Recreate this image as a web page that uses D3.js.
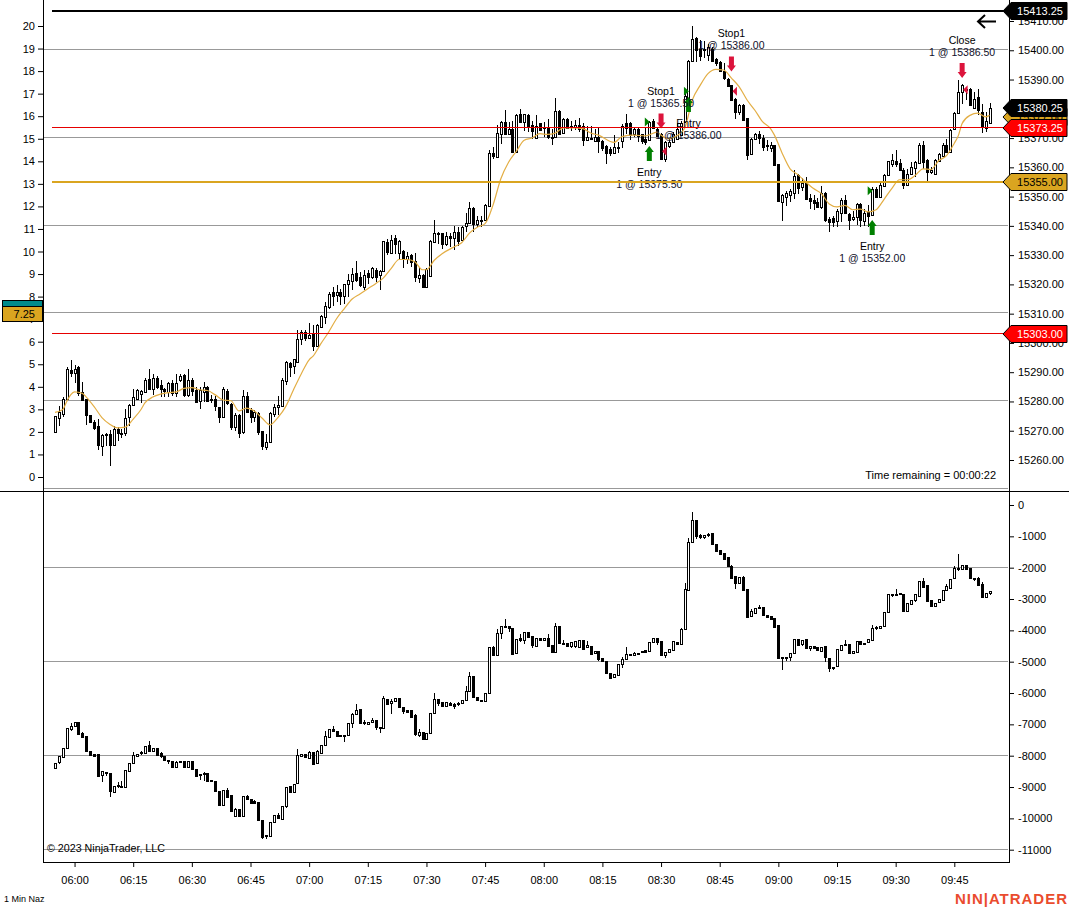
<!DOCTYPE html>
<html>
<head>
<meta charset="utf-8">
<style>
  html, body { margin: 0; padding: 0; background: #fff; }
  svg { display: block; }
  text { font-family: "Liberation Sans", Arial, sans-serif; fill: #000; }
  .axis text { font-size: 11px; }
  .axis line { stroke: #000; }
</style>
<script src="https://d3js.org/d3.v7.min.js"></script>
</head>
<body>
<div id="chart"></div>
<script>
// Svg Dimensions
var svgWidth = 1069;
var svgHeight = 909;

// Price bars, one per minute from 05:55: open, high, low, close
var priceBars = [
  [15269.5,15275,15269.5,15275],[15274.25,15278.5,15271.5,15276.25],[15275.75,15281.5,15274.75,15280.75],[15280.75,15291.75,15280.5,15291],
  [15290.75,15294.25,15288.25,15289.75],[15289.5,15292.5,15286.25,15291],[15291.75,15292.25,15281.75,15283],[15283.25,15286.75,15280.25,15280.5],
  [15280.75,15280.75,15272,15275.25],[15275.25,15275.5,15272.75,15273],[15273,15273.75,15270.25,15271],[15271.75,15274,15263.5,15265.25],
  [15264.75,15269,15261.25,15268.5],[15268.5,15269.25,15264.75,15269],[15269,15270.25,15258,15265.25],[15265.25,15271.5,15264.75,15270.75],
  [15270.75,15271.25,15266.5,15269.25],[15269.25,15270.75,15267.5,15269],[15269.25,15277.5,15268.25,15274.25],[15274.5,15279,15271.5,15278.75],
  [15278.75,15284.25,15278.5,15281.5],[15280.75,15284.25,15280.5,15283.75],[15282.5,15284,15279.5,15283.5],[15283.25,15288,15283,15287.5],
  [15287.75,15291.25,15284,15284.5],[15284.25,15289.5,15282.25,15288],[15288,15288.75,15284.25,15285],[15285.75,15287.25,15281.5,15284.25],
  [15284.25,15284.75,15281.5,15283.5],[15283.25,15286.75,15281.5,15286.25],[15286.25,15287.25,15281.75,15283],[15282.75,15289.5,15281.5,15286.25],
  [15287.5,15289.5,15286.5,15288.75],[15289,15289.5,15281.5,15282.25],[15282.25,15291,15281.5,15287.5],[15287.5,15288,15281.75,15283.75],
  [15284,15285,15279.5,15279.75],[15280,15285,15277.5,15283.75],[15283.25,15286.75,15279.75,15285],[15285,15285.25,15279.75,15280.25],
  [15280.75,15282.25,15279.5,15280.25],[15280.75,15281.75,15276.75,15278.25],[15278,15278.25,15272.75,15274.75],[15274.75,15285,15274.5,15284.25],
  [15283.5,15284.25,15278.75,15279.5],[15279,15279.5,15270.25,15271.25],[15271.25,15276,15269.75,15275.5],[15275.5,15275.75,15267.5,15269.5],
  [15269.5,15284,15269,15281.75],[15282,15283.25,15276,15276.5],[15277,15277.75,15272.75,15274.75],[15274.5,15277,15273,15276.25],
  [15276,15276.5,15268.5,15269.5],[15269.75,15270,15263.5,15264.5],[15264.5,15269,15263.25,15266.25],[15266,15276.5,15265.75,15276],
  [15275.75,15279.25,15274.75,15278],[15278,15281.75,15275.5,15278.75],[15278.5,15288,15278.25,15287.5],[15287,15293.75,15285.75,15293.5],
  [15293,15293.5,15288.5,15291.75],[15292,15294.5,15289.5,15294.5],[15293.75,15304.5,15293.5,15301.5],[15301.5,15304.25,15299.25,15303.75],
  [15303.75,15304.25,15300.75,15301.75],[15301.75,15306.75,15301.5,15302.75],[15303.25,15306.25,15297.25,15298.75],[15299,15306.5,15298.75,15306.25],
  [15305.5,15309.5,15305.25,15309.25],[15309,15314,15306.5,15312.75],[15312.25,15317.5,15311.75,15316.75],[15317.5,15319.25,15312.75,15316.25],
  [15316.25,15319.75,15314,15317.25],[15317.5,15318.5,15313,15316.25],[15315.75,15320.25,15313.25,15320],[15320,15323.5,15315.75,15321.5],
  [15321.25,15325.5,15318,15323.5],[15323.75,15328,15320.75,15321.5],[15322.5,15324.25,15319.25,15319.75],[15319.25,15325,15318,15323.25],
  [15324,15324.75,15320.25,15322.75],[15322.5,15326,15322,15325.5],[15325,15325.75,15320.75,15322.5],[15323.25,15325,15318.25,15324.5],
  [15324.5,15335,15324.25,15334.75],[15334.5,15335.5,15330,15331],[15330.75,15336.75,15330.5,15335.25],[15335.75,15336.75,15330.5,15333.75],
  [15331,15335.25,15328.75,15335],[15331.5,15331.75,15325.5,15328.75],[15328.75,15331,15327,15329.75],[15330,15330.5,15326,15327.75],
  [15328,15330.75,15320.75,15322.5],[15322.25,15326,15320.5,15323.25],[15323.25,15323.5,15318.75,15319],[15319.25,15325.5,15319,15325.25],
  [15323,15335.25,15322.5,15335],[15334.5,15342,15334,15337.5],[15337.5,15338,15333.75,15337.25],[15337.5,15337.5,15332.25,15333.75],
  [15333.75,15337.75,15333.25,15336.5],[15336.5,15337.5,15332.75,15335.75],[15335.75,15340,15331.75,15337.75],[15338,15339.75,15333.25,15335],
  [15335,15340,15334.75,15339.5],[15340,15344.5,15338,15341],[15341,15348.25,15340.75,15346.25],[15346.25,15346.5,15338,15340.75],
  [15340.5,15343.25,15339.5,15342],[15342,15343.5,15339.5,15341.5],[15342,15347.5,15341.5,15347],[15346.75,15366,15346.5,15364.75],
  [15364.75,15367,15363,15363.75],[15363.5,15374.5,15363.5,15371.75],[15371.5,15376,15368,15375.5],[15375.5,15379.75,15371,15371.25],
  [15371.5,15375.5,15371.25,15373.25],[15373.25,15376,15365.25,15365.5],[15365.25,15378.25,15365,15378],[15378.25,15380,15375.25,15375.5],
  [15375.5,15378.25,15372.5,15378.25],[15378,15378.25,15372,15374.25],[15374.5,15375.75,15369.75,15372.5],[15370,15378,15369.75,15374.25],
  [15375,15375.25,15372.5,15372.75],[15373.25,15375.5,15370.25,15373.75],[15373.75,15376.5,15369.75,15370.25],[15370.5,15373,15367.5,15370],
  [15370.5,15383.75,15370.25,15379.25],[15379.25,15379.5,15371,15371.5],[15371.75,15377,15371.5,15376.5],[15376.5,15377,15373.25,15373.5],
  [15374,15376,15372.5,15373.5],[15373.75,15376.25,15372.75,15374.5],[15374.5,15377,15372,15373],[15374,15375,15367.25,15369.25],
  [15369.25,15374.25,15369,15370.25],[15369.75,15374.25,15369.25,15370],[15369.25,15373.25,15369,15370.5],[15370.5,15373.75,15364.75,15369],
  [15369,15369.25,15365.75,15366.75],[15367.25,15367.5,15361.25,15365],[15366.25,15367,15363.75,15364.75],[15365,15371,15364.75,15367],
  [15367,15368.5,15364.75,15366.5],[15369.25,15374.75,15366.5,15374.25],[15375,15378.25,15371.5,15373.25],[15375,15375.5,15369.25,15371],
  [15371.5,15373.5,15370.25,15373.25],[15373.25,15373.5,15368.75,15371],[15371.25,15371.5,15368,15368.75],[15369.75,15373.75,15367.5,15368.75],
  [15369.25,15376,15369,15375.5],[15376,15376.5,15373.25,15373.75],[15373.25,15373.5,15370.75,15371],[15371.5,15371.75,15362.5,15363],
  [15363,15369,15361.75,15368.75],[15367.5,15370,15366.5,15368.75],[15368.75,15372,15368.5,15371.5],[15369.75,15375,15369.5,15373.25],
  [15371,15376,15370.75,15375],[15375.5,15385,15375.25,15384.5],[15384,15396.75,15383.75,15396.5],[15396.5,15408.25,15396.25,15404],
  [15404.25,15404.5,15396,15400],[15400.5,15403.5,15396.5,15398],[15400,15403,15397.5,15400.5],[15398.25,15402.25,15396.25,15401],
  [15400.5,15401,15396,15396.5],[15397,15397.5,15394.75,15395.5],[15396,15396.25,15392.75,15393],[15393,15395.5,15390,15390.5],
  [15390.25,15390.5,15387.5,15388],[15388,15388.25,15382.5,15382.75],[15383.5,15383.75,15376.5,15379],[15379,15381.5,15377.75,15381.25],
  [15381.25,15381.5,15375.75,15376],[15376.75,15377,15362.5,15364],[15364.75,15370,15364.5,15369.75],[15369.75,15371.75,15369.5,15371.5],
  [15371.25,15372.5,15368,15370],[15370,15371,15365.75,15367],[15367.75,15369.5,15365.75,15367.25],[15366.75,15368.5,15365.25,15367.75],
  [15367.5,15367.75,15360.5,15360.75],[15361,15361.25,15348,15348.25],[15348.25,15350.75,15341.5,15350.5],[15349.75,15351.75,15346.75,15351.25],
  [15350.5,15352.75,15348,15352],[15351.25,15359,15349.25,15357],[15357.25,15357.75,15351,15352.75],[15353.25,15356.5,15351.75,15354.5],
  [15355,15356.75,15349,15349.25],[15349.5,15351,15345.75,15348.5],[15349,15350.5,15345.5,15348],[15348.25,15349.5,15346.25,15346.5],
  [15346.5,15353.75,15345.75,15351.25],[15351.25,15351.5,15341.25,15342],[15342.5,15343,15337.75,15341.5],[15342.75,15343.25,15339.5,15341.25],
  [15341.5,15345.75,15339.5,15345],[15344.5,15349.5,15341.25,15349],[15348.75,15350.5,15344,15344.25],[15344,15344.25,15338.75,15342],
  [15342.25,15345.25,15341.75,15343],[15343,15347.75,15340.25,15347.5],[15347.5,15347.75,15339.75,15342],[15341.75,15345.75,15340,15344.5],
  [15344.75,15347,15339.5,15343.5],[15343.5,15353.25,15343.25,15352.5],[15352.5,15353.25,15349.5,15349.75],[15349.75,15354.5,15349.5,15354],
  [15353.75,15357.75,15353.5,15357.5],[15357.25,15362.25,15357,15362],[15361.25,15364.5,15360.25,15362.5],[15362.25,15366,15360,15361.25],
  [15361.5,15363,15359,15359.25],[15359.25,15359.75,15352.5,15354],[15354,15359.5,15353.75,15357.75],[15357.5,15361.75,15357.25,15360],
  [15359.75,15362.25,15356.75,15361.75],[15361.75,15368.25,15361.5,15367.75],[15367.5,15369,15359.5,15361.75],[15362.5,15363,15355.25,15358.25],
  [15358.25,15360,15357.75,15359],[15357.75,15362.75,15357.5,15362.5],[15362.25,15365,15362,15364.5],[15364,15368.25,15363.75,15367.75],
  [15367.5,15369.75,15365,15365.25],[15365.25,15373.25,15365,15372.75],[15373,15378.75,15372.75,15378.5],[15378.5,15390,15378.25,15385.75],
  [15385.75,15388.5,15381.75,15388],[15386.75,15387.5,15383,15386.25],[15386.75,15387,15381,15381.25],[15380.5,15385.75,15380.25,15383.5],
  [15384,15386.75,15377.75,15379.5],[15379,15381.75,15371.75,15373.75],[15373.75,15379,15372,15376],[15375.25,15382,15374.75,15380.25]
];

// Cumulative delta bars in the lower panel: open, high, low, close
var deltaBars = [
  [-8395,-8225,-8395,-8225],[-8225,-8000,-8250,-8020],[-8045,-7745,-8065,-7745],[-7745,-7105,-7745,-7105],[-7130,-6960,-7215,-7040],
  [-7040,-6915,-7040,-6915],[-6915,-6915,-7300,-7300],[-7275,-7245,-7425,-7405],[-7360,-7360,-7880,-7850],[-7850,-7850,-7990,-7990],
  [-7935,-7935,-7990,-7990],[-7935,-7935,-8630,-8630],[-8630,-8500,-8840,-8500],[-8565,-8520,-8660,-8520],[-8555,-8555,-9320,-9140],
  [-9140,-8960,-9140,-8960],[-8980,-8840,-9020,-8950],[-8990,-8820,-9000,-8970],[-9000,-8470,-9000,-8470],[-8490,-8235,-8490,-8235],
  [-8255,-7885,-8255,-7990],[-8000,-7935,-8000,-7935],[-7935,-7850,-7990,-7895],[-7905,-7680,-7905,-7680],[-7670,-7530,-7850,-7850],
  [-7850,-7745,-7850,-7745],[-7745,-7745,-7970,-7970],[-7915,-7885,-8065,-8020],[-8010,-8010,-8180,-8130],[-8130,-8130,-8280,-8160],
  [-8160,-8160,-8360,-8360],[-8360,-8170,-8390,-8190],[-8170,-8170,-8200,-8200],[-8160,-8160,-8340,-8340],[-8340,-8160,-8385,-8160],
  [-8160,-8160,-8415,-8415],[-8415,-8415,-8660,-8630],[-8615,-8575,-8790,-8595],[-8595,-8520,-8810,-8550],[-8540,-8540,-8800,-8800],
  [-8790,-8790,-8800,-8800],[-8800,-8800,-9160,-9130],[-9130,-9130,-9565,-9565],[-9565,-9085,-9565,-9085],[-9085,-9020,-9300,-9300],
  [-9265,-9265,-9775,-9775],[-9905,-9660,-9925,-9690],[-9690,-9690,-9925,-9925],[-9925,-9275,-9925,-9275],[-9275,-9245,-9405,-9385],
  [-9375,-9375,-9510,-9510],[-9460,-9425,-9510,-9510],[-9480,-9480,-10065,-10065],[-10045,-10045,-10650,-10575],[-10565,-10520,-10650,-10545],
  [-10565,-10115,-10565,-10115],[-10115,-9905,-10115,-9905],[-9905,-9830,-10030,-9990],[-10010,-9595,-10040,-9595],[-9615,-9000,-9670,-9000],
  [-8980,-8980,-9160,-9160],[-9160,-8895,-9190,-8895],[-8895,-7800,-8895,-7990],[-8010,-7935,-8010,-7935],[-7960,-7960,-8075,-8045],
  [-8065,-7850,-8095,-7885],[-7885,-7885,-8255,-8255],[-8255,-7830,-8255,-7860],[-7905,-7650,-7930,-7650],[-7670,-7225,-7670,-7385],
  [-7405,-7140,-7405,-7140],[-7140,-7065,-7245,-7215],[-7200,-7200,-7385,-7350],[-7330,-7330,-7385,-7360],[-7330,-7330,-7565,-7350],
  [-7330,-6945,-7330,-6945],[-6945,-6640,-7115,-6660],[-6660,-6360,-6660,-6530],[-6510,-6510,-6945,-6945],[-6935,-6850,-7010,-6980],
  [-7000,-6925,-7010,-6925],[-6925,-6810,-6925,-6850],[-6850,-6850,-7170,-7085],[-7085,-7085,-7265,-7105],[-7105,-6105,-7105,-6160],
  [-6180,-6180,-6395,-6340],[-6320,-6190,-6680,-6245],[-6255,-6150,-6255,-6150],[-6150,-6150,-6445,-6445],[-6445,-6445,-6680,-6575],
  [-6530,-6530,-6585,-6585],[-6530,-6530,-6745,-6745],[-6710,-6660,-7370,-7320],[-7320,-7140,-7405,-7235],[-7235,-7235,-7460,-7460],
  [-7460,-7275,-7460,-7275],[-7275,-6625,-7275,-6625],[-6640,-5990,-6640,-6180],[-6190,-6190,-6425,-6320],[-6300,-6300,-6425,-6425],
  [-6415,-6300,-6415,-6300],[-6320,-6300,-6425,-6370],[-6340,-6310,-6500,-6395],[-6310,-6300,-6425,-6350],[-6320,-6210,-6320,-6210],
  [-6210,-5775,-6210,-5935],[-5935,-5340,-5935,-5445],[-5445,-5445,-6130,-6130],[-6130,-6130,-6210,-6210],[-6225,-6225,-6245,-6245],
  [-6245,-5990,-6245,-5990],[-5990,-4520,-5990,-4520],[-4520,-4500,-4795,-4775],[-4775,-3945,-4775,-4075],[-4075,-3850,-4275,-3850],
  [-3870,-3625,-3915,-3850],[-3850,-3850,-4055,-3915],[-3915,-3915,-4745,-4745],[-4725,-4265,-4725,-4265],[-4255,-4105,-4370,-4310],
  [-4295,-4040,-4425,-4040],[-4040,-4040,-4210,-4210],[-4190,-4190,-4565,-4480],[-4480,-4235,-4480,-4235],[-4235,-4235,-4300,-4300],
  [-4320,-4245,-4340,-4245],[-4235,-4105,-4500,-4500],[-4470,-4470,-4725,-4690],[-4690,-3755,-4690,-3870],[-3870,-3870,-4405,-4405],
  [-4415,-4300,-4480,-4395],[-4395,-4395,-4530,-4500],[-4500,-4370,-4555,-4370],[-4500,-4350,-4555,-4350],[-4530,-4300,-4530,-4300],
  [-4300,-4300,-4605,-4585],[-4555,-4350,-4555,-4480],[-4490,-4490,-4800,-4745],[-4725,-4660,-4765,-4660],[-4650,-4650,-4980,-4905],
  [-4870,-4870,-4980,-4980],[-4970,-4970,-5400,-5350],[-5350,-5350,-5530,-5510],[-5490,-5385,-5490,-5385],[-5405,-5065,-5435,-5065],
  [-5065,-4850,-5210,-4905],[-4905,-4540,-4905,-4745],[-4775,-4745,-4820,-4745],[-4775,-4680,-4820,-4715],[-4735,-4715,-4770,-4715],
  [-4670,-4670,-4700,-4700],[-4640,-4640,-4690,-4690],[-4660,-4360,-4660,-4360],[-4360,-4235,-4405,-4235],[-4235,-4235,-4480,-4370],
  [-4350,-4350,-4830,-4800],[-4775,-4680,-4880,-4680],[-4690,-4605,-4690,-4605],[-4630,-4350,-4650,-4350],[-4360,-4360,-4460,-4435],
  [-4435,-3910,-4435,-3945],[-3945,-2480,-3945,-2670],[-2700,-1065,-2730,-1170],[-1180,-235,-1215,-490],[-490,-490,-1085,-1000],
  [-945,-915,-1075,-1020],[-1000,-945,-1085,-945],[-935,-885,-1020,-955],[-895,-895,-1255,-1255],[-1235,-1235,-1450,-1450],
  [-1425,-1425,-1540,-1540],[-1520,-1520,-1745,-1710],[-1670,-1670,-1955,-1955],[-1945,-1925,-2320,-2320],[-2275,-2275,-2690,-2490],
  [-2490,-2310,-2490,-2310],[-2310,-2280,-2725,-2725],[-2690,-2690,-3610,-3575],[-3555,-3310,-3555,-3395],[-3425,-3275,-3480,-3275],
  [-3275,-3205,-3330,-3255],[-3265,-3265,-3520,-3520],[-3500,-3500,-3565,-3565],[-3540,-3540,-3630,-3630],[-3595,-3595,-3875,-3875],
  [-3840,-3840,-4885,-4885],[-4840,-4840,-5280,-4875],[-4840,-4840,-4980,-4865],[-4850,-4725,-4980,-4725],[-4725,-4265,-4725,-4265],
  [-4265,-4265,-4450,-4450],[-4435,-4300,-4510,-4300],[-4290,-4290,-4565,-4565],[-4565,-4490,-4660,-4490],[-4490,-4490,-4565,-4565],
  [-4545,-4545,-4650,-4650],[-4660,-4545,-4690,-4545],[-4510,-4510,-5000,-4870],[-4870,-4870,-5330,-5190],[-5160,-5160,-5280,-5190],
  [-5160,-4605,-5160,-4605],[-4630,-4455,-4630,-4455],[-4425,-4320,-4500,-4470],[-4425,-4425,-4715,-4715],[-4725,-4660,-4755,-4660],
  [-4670,-4330,-4700,-4330],[-4330,-4330,-4425,-4425],[-4395,-4395,-4470,-4425],[-4395,-4290,-4395,-4290],[-4300,-3820,-4300,-3915],
  [-3905,-3850,-4000,-3925],[-3935,-3860,-3935,-3860],[-3860,-3405,-3860,-3405],[-3405,-2830,-3405,-2830],[-2840,-2840,-2940,-2860],
  [-2830,-2670,-2880,-2850],[-2820,-2820,-2880,-2860],[-2850,-2850,-3425,-3385],[-3385,-3140,-3385,-3140],[-3160,-3020,-3190,-3020],
  [-3045,-2850,-3095,-2850],[-2885,-2415,-2885,-2415],[-2415,-2320,-2595,-2595],[-2565,-2565,-3075,-3075],[-3045,-3045,-3225,-3225],
  [-3225,-3115,-3225,-3115],[-3115,-3010,-3115,-3010],[-3010,-2700,-3010,-2700],[-2710,-2530,-2710,-2595],[-2625,-2350,-2625,-2350],
  [-2350,-1960,-2350,-2020],[-2040,-1575,-2105,-2020],[-2030,-1905,-2030,-1905],[-1905,-1905,-2075,-2045],[-2010,-2010,-2330,-2330],
  [-2320,-2320,-2435,-2350],[-2340,-2290,-2555,-2555],[-2530,-2470,-2945,-2945],[-2935,-2810,-2980,-2810],[-2810,-2745,-2870,-2745]
];

// Moving average at these bars
var smaBars = [0,2,3,4,5,7,8,10,12,14,16,18,20,22,23,25,27,29,31,33,35,37,39,41,43,45,47,49,51,53,55,57,59,61,63,65,66,68,70,72,74,76,78,80,82,84,86,88,90,92,94,95,97,99,102,104,106,108,110,112,114,116,118,120,122,124,126,128,130,133,135,137,139,143,145,148,151,154,155,157,159,161,163,165,167,169,171,173,175,177,179,181,183,184,186,188,190,192,194,196,198,200,202,204,206,208,210,212,214,216,218,220,222,224,226,228,230,231,232,234,236,238,239];
var smaValues = [15276.25,15277.25,15280,15282.25,15283.25,15282.75,15281.5,15278.25,15274.5,15272.25,15271,15271.25,15274,15277.25,15279.5,15281.5,15282.5,15283,15283.25,15284.5,15284.75,15284,15283.75,15282.25,15280.5,15280.25,15276.75,15277.75,15276.75,15274.25,15272,15274.5,15278.25,15284,15289.5,15294.25,15295.5,15299.75,15303.75,15308.25,15311.75,15315,15316.75,15318.5,15320.25,15322.25,15325.5,15328.5,15328.5,15327.75,15325,15325,15328.25,15330.5,15332.75,15334.25,15337.5,15339.5,15340.75,15347,15356,15361.75,15365.5,15369.25,15370,15371.5,15371.25,15371.75,15373.5,15373.5,15373.25,15371.75,15371,15368.5,15370.5,15371,15370.75,15372,15371,15369.75,15370.75,15373.25,15383,15388,15392,15393.5,15393.25,15390.5,15387.5,15383,15379.5,15375.5,15373.25,15371,15364.75,15359.5,15357.5,15355,15352.75,15351,15347.5,15346.5,15347,15345.5,15345.75,15344.75,15345.5,15349,15352.75,15355.75,15355.75,15357.25,15359.5,15359.25,15362.25,15364,15368.25,15370.75,15375,15377.75,15378.5,15377.25,15377.75];

// Trades: bar, fill price, arrow tip price, side and the two label lines
var tradeBars = [152,155,162,173,209,232];
var tradeFills = [15375.5,15365.5,15386,15386,15352,15386.5];
var tradeTips = [15367.25,15373.25,15384,15392.75,15342,15390.5];
var tradeSides = ["buy","sell","buy","sell","buy","sell"];
var tradeNames = ["Entry","Stop1","Entry","Stop1","Entry","Close"];
var tradeTexts = ["1 @ 15375.50","1 @ 15365.50","1 @ 15386.00","1 @ 15386.00","1 @ 15352.00","1 @ 15386.50"];

// Axis ticks
var priceTicks = [15260,15270,15280,15290,15300,15310,15320,15330,15340,15350,15360,15370,15380,15390,15400,15410];
var leftTicks = d3.range(0, 21);
var deltaTicks = [0,-1000,-2000,-3000,-4000,-5000,-6000,-7000,-8000,-9000,-10000,-11000];
var priceGrid = [15250,15280,15310,15340,15370,15400];
var deltaGrid = [-2000,-5000,-8000,-11000];

// Price levels with their tags
var levelPrices = [15413.25,15355,15373.25,15303];
var levelColors = ["#000","#daa520","#e60000","#e60000"];
var levelWidths = [2,2,1,1];
var tagPrices = [15413.25,15355,15303,15377,15373.25,15380.25];
var tagColors = ["#000","#daa520","#ff0000","#daa520","#ff0000","#000"];
var tagInk = ["#fff","#000","#fff","#000","#fff","#fff"];
var leftTagValue = 7.25;

// Scales
var firstBar = new Date(2023, 0, 3, 5, 55);
var barTime = i => new Date(firstBar.getTime() + i * 60000);
var xScale = d3.scaleTime()
    .domain([barTime(0), barTime(priceBars.length - 1)])
    .range([55, 989.5]);
var priceScale = d3.scaleLinear().domain([15260, 15410]).range([460, 21]);
var leftScale = d3.scaleLinear().domain([0, 20]).range([477, 26]);
var deltaScale = d3.scaleLinear().domain([0, -11000]).range([505, 849.7]);

var svg = d3.select("#chart").append("svg")
    .attr("width", svgWidth)
    .attr("height", svgHeight);

svg.append("rect").attr("width", svgWidth).attr("height", svgHeight).attr("fill", "#fff");

// Grid lines, the price panel sits a little under a pixel higher than its ticks
function drawGrid(values, scale, shift) {
    svg.append("g").selectAll("line")
        .data(values)
        .enter()
        .append("line")
        .attr("x1", 44)
        .attr("x2", 1008)
        .attr("y1", d => Math.floor(scale(d) - shift) + 0.5)
        .attr("y2", d => Math.floor(scale(d) - shift) + 0.5)
        .attr("stroke", "#999")
        .attr("stroke-width", 1);
}
drawGrid(priceGrid, priceScale, 0.7);
drawGrid(deltaGrid, deltaScale, 0);

// Candles, shared by both panels
function drawCandles(bars, scale) {
    var group = svg.append("g").attr("shape-rendering", "crispEdges");
    var center = i => Math.round(xScale(barTime(i))) + 0.5;

    group.selectAll(".wick")
        .data(bars)
        .enter()
        .append("line")
        .attr("class", "wick")
        .attr("x1", (d, i) => center(i))
        .attr("x2", (d, i) => center(i))
        .attr("y1", d => scale(d[1]))
        .attr("y2", d => scale(d[2]))
        .attr("stroke", "#000");

    group.selectAll(".body")
        .data(bars)
        .enter()
        .append("rect")
        .attr("class", "body")
        .attr("x", (d, i) => center(i) - 1)
        .attr("y", d => Math.round(scale(Math.max(d[0], d[3]))) + 0.5)
        .attr("width", 2)
        .attr("height", d => Math.max(1, Math.round(Math.abs(scale(d[0]) - scale(d[3])))))
        .attr("fill", d => d[3] >= d[0] ? "#fff" : "#000")
        .attr("stroke", "#000");
}
drawCandles(priceBars, priceScale);
drawCandles(deltaBars, deltaScale);

// Moving average
var smaLine = d3.line()
    .x((d, i) => xScale(barTime(smaBars[i])))
    .y(d => priceScale(d))
    .curve(d3.curveMonotoneX);

svg.append("path")
    .datum(smaValues)
    .attr("d", smaLine)
    .attr("fill", "none")
    .attr("stroke", "#e3ae45")
    .attr("stroke-width", 1.2);

// Trade markers
var tradeGroup = svg.append("g");
var tradeColor = i => tradeSides[i] === "buy" ? "#008000" : "#dc143c";

// Arrow above or below the bar, pointing at it
tradeGroup.selectAll(".arrow")
    .data(tradeBars)
    .enter()
    .append("path")
    .attr("class", "arrow")
    .attr("d", (d, i) => {
        var x = xScale(barTime(d));
        var tip = priceScale(tradeTips[i]);
        var s = tradeSides[i] === "buy" ? 1 : -1;
        return `M${x},${tip}L${x + 4.5},${tip + 6 * s}L${x + 2.5},${tip + 6 * s}L${x + 2.5},${tip + 15 * s}L${x - 2.5},${tip + 15 * s}L${x - 2.5},${tip + 6 * s}L${x - 4.5},${tip + 6 * s}Z`;
    })
    .attr("fill", (d, i) => tradeColor(i));

// Small triangle at the fill price
tradeGroup.selectAll(".fill")
    .data(tradeBars)
    .enter()
    .append("path")
    .attr("class", "fill")
    .attr("d", (d, i) => {
        var x = xScale(barTime(d));
        var y = priceScale(tradeFills[i]);
        if (tradeSides[i] === "buy") {
            return `M${x - 4.5},${y - 4.5}L${x + 0.5},${y}L${x - 4.5},${y + 4.5}Z`;
        }
        return `M${x + 5.5},${y - 4.5}L${x + 1},${y}L${x + 5.5},${y + 4.5}Z`;
    })
    .attr("fill", (d, i) => tradeColor(i));

// Labels sit under buy arrows and over sell arrows
tradeGroup.selectAll(".name")
    .data(tradeBars)
    .enter()
    .append("text")
    .attr("class", "name")
    .attr("x", d => xScale(barTime(d)))
    .attr("y", (d, i) => priceScale(tradeTips[i]) + (tradeSides[i] === "buy" ? 30 : -34))
    .attr("text-anchor", "middle")
    .attr("font-size", "10.5px")
    .text((d, i) => tradeNames[i]);

tradeGroup.selectAll(".fillText")
    .data(tradeBars)
    .enter()
    .append("text")
    .attr("class", "fillText")
    .attr("x", d => xScale(barTime(d)))
    .attr("y", (d, i) => priceScale(tradeTips[i]) + (tradeSides[i] === "buy" ? 42 : -22))
    .attr("text-anchor", "middle")
    .attr("font-size", "10.5px")
    .style("fill", "#10102a")
    .text((d, i) => tradeTexts[i]);

// Level lines cross the candles and the label text
svg.append("g").selectAll("line")
    .data(levelPrices)
    .enter()
    .append("line")
    .attr("x1", 52)
    .attr("x2", 1004)
    .attr("y1", (d, i) => levelWidths[i] === 2 ? Math.round(priceScale(d)) : Math.floor(priceScale(d) - 0.7) + 0.5)
    .attr("y2", (d, i) => levelWidths[i] === 2 ? Math.round(priceScale(d)) : Math.floor(priceScale(d) - 0.7) + 0.5)
    .attr("stroke", (d, i) => levelColors[i])
    .attr("stroke-width", (d, i) => levelWidths[i]);

// Axes
svg.append("g")
    .attr("class", "axis")
    .attr("transform", "translate(1009,0)")
    .call(d3.axisRight(priceScale).tickValues(priceTicks).tickSize(5).tickPadding(4).tickFormat(d3.format(".2f")))
    .call(g => g.select(".domain").remove());

svg.append("g")
    .attr("class", "axis")
    .attr("transform", "translate(1009,0)")
    .call(d3.axisRight(deltaScale).tickValues(deltaTicks).tickSize(5).tickPadding(4).tickFormat(d => String(d)))
    .call(g => g.select(".domain").remove());

svg.append("g")
    .attr("class", "axis")
    .attr("transform", "translate(43,0)")
    .call(d3.axisLeft(leftScale).tickValues(leftTicks).tickSize(5).tickPadding(3))
    .call(g => g.select(".domain").remove());

svg.append("g")
    .attr("class", "axis")
    .attr("transform", "translate(0,862)")
    .call(d3.axisBottom(xScale).ticks(d3.timeMinute.every(15)).tickSize(5).tickPadding(9).tickFormat(d3.timeFormat("%H:%M")))
    .call(g => g.select(".domain").remove());

// Frame lines
var frame = svg.append("g").attr("stroke", "#000").attr("stroke-width", 1);
frame.append("line").attr("x1", 43.5).attr("x2", 43.5).attr("y1", 0).attr("y2", 862);
frame.append("line").attr("x1", 1009.5).attr("x2", 1009.5).attr("y1", 0).attr("y2", 862);
frame.append("line").attr("x1", 0).attr("x2", svgWidth).attr("y1", 491.5).attr("y2", 491.5);
frame.append("line").attr("x1", 43).attr("x2", 1010).attr("y1", 862.5).attr("y2", 862.5);

// Right side price tags
var tags = svg.append("g").selectAll("g")
    .data(tagPrices)
    .enter()
    .append("g")
    .attr("transform", d => `translate(1003,${Math.floor(priceScale(d) + 0.3)})`);

tags.append("path")
    .attr("d", "M0,0L8,-8.5L64,-8.5L64,8.5L8,8.5Z")
    .attr("fill", (d, i) => tagColors[i])
    .attr("stroke", "#000");

tags.append("text")
    .attr("x", 37)
    .attr("y", 4)
    .attr("text-anchor", "middle")
    .attr("font-size", "11px")
    .style("fill", (d, i) => tagInk[i])
    .text(d => d3.format(".2f")(d));

// Left side tag
var leftY = Math.round(leftScale(leftTagValue));
svg.append("rect").attr("x", 2.5).attr("y", leftY - 13.5).attr("width", 40).attr("height", 6).attr("fill", "#008b8b").attr("stroke", "#000");
svg.append("rect").attr("x", 2.5).attr("y", leftY - 7.5).attr("width", 40).attr("height", 15).attr("fill", "#daa520").attr("stroke", "#000");
svg.append("text")
    .attr("x", 35)
    .attr("y", leftY + 4)
    .attr("text-anchor", "end")
    .attr("font-size", "11px")
    .text(d3.format(".2f")(leftTagValue));

// Back arrow in the corner
svg.append("path")
    .attr("d", "M996,21.5L978,21.5M985,15L978,21.5L985,28")
    .attr("fill", "none")
    .attr("stroke", "#000")
    .attr("stroke-width", 2);

// Other text
svg.append("text").attr("x", 996).attr("y", 479).attr("text-anchor", "end").attr("font-size", "11px").text("Time remaining = 00:00:22");
svg.append("text").attr("x", 47).attr("y", 852).attr("font-size", "10.7px").text("\u00a9 2023 NinjaTrader, LLC");
svg.append("text").attr("x", 4).attr("y", 902).attr("font-size", "9px").text("1 Min Naz");
svg.append("text")
    .attr("x", 955)
    .attr("y", 904)
    .attr("font-size", "15px")
    .attr("font-weight", "bold")
    .attr("textLength", 112)
    .style("fill", "#ea4c2e")
    .text("NIN|ATRADER");
</script>
</body>
</html>
